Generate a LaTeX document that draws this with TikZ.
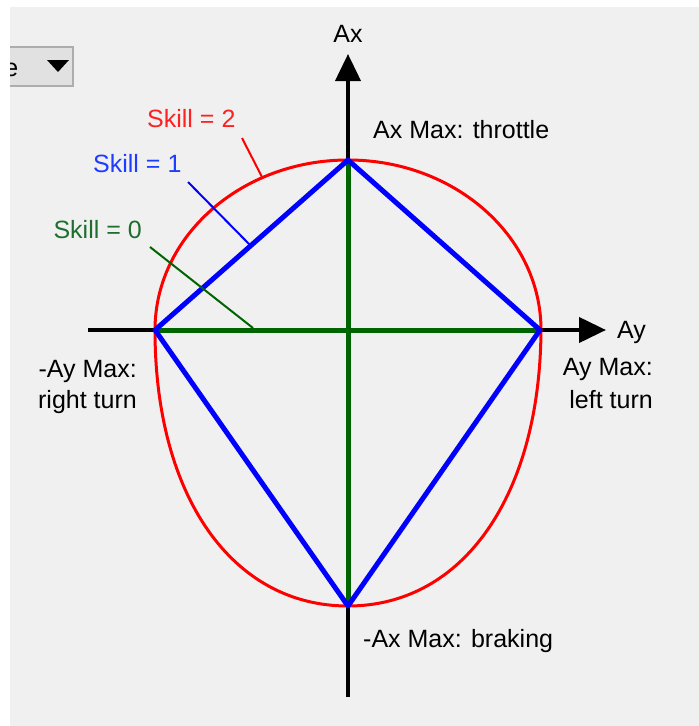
\documentclass[tikz,border=0pt]{standalone}
\usepackage{fontspec}
\setmainfont{Liberation Sans}
\usetikzlibrary{arrows.meta}
\definecolor{bgray}{HTML}{F0F0F0}
\definecolor{ddfill}{HTML}{E1E1E1}
\definecolor{ddborder}{HTML}{ADADAD}
\definecolor{sgreen}{HTML}{006400}
\definecolor{tgreen}{HTML}{1E6E2E}
\definecolor{tblue}{HTML}{1E3CFF}
\definecolor{tred}{HTML}{FF2020}
\tikzset{
  lbl/.style={inner sep=0pt, font=\fontsize{25}{30}\selectfont, text=black},
  axisline/.style={line width=4pt, -{Triangle[length=27pt,width=25pt]}},
  leader/.style={line width=2pt},
  skillshape/.style={line width=5pt, line join=round, line cap=round},
}
\begin{document}
\begin{tikzpicture}[x=1pt,y=-1pt]
\useasboundingbox (0,0) rectangle (699,726);
\fill[white] (0,0) rectangle (699,726);
\fill[bgray] (10,7) rectangle (699,726);
% dropdown fragment
\fill[ddfill] (10,47) rectangle (73,86);
\draw[ddborder, line width=1.5pt] (10,47) -- (73,47) -- (73,86) -- (10,86);
\begin{scope}
  \clip (10,48) rectangle (72,85);
  \node[lbl, anchor=base east] (ddtext) at (18.5,76) {e};
\end{scope}
\fill[black] (47,60) -- (69,60) -- (58,72) -- cycle;

% key points
\coordinate (O) at (348,330);
\coordinate (T) at (348,160);
\coordinate (B) at (348,606);
\coordinate (L) at (155,330);
\coordinate (R) at (540,330);
\coordinate (axbot) at (348,697);
\coordinate (axtop) at (348,54);
\coordinate (ayleft) at (88,330);
\coordinate (ayright) at (606,330);

% axes
\draw[axisline] (axbot) -- (axtop);
\draw[axisline] (ayleft) -- (ayright);

% skill = 2 (red egg)
\draw[red, line width=3pt] (L) arc[start angle=180, end angle=0, x radius=193pt, y radius=170pt]
  .. controls (540,496) and (463,606) .. (B)
  .. controls (232,606) and (155,496) .. (L);

% skill = 0 (green cross)
\draw[sgreen, line width=5pt] (T) -- (B);
\draw[sgreen, line width=5pt] (L) -- (R);

% skill = 1 (blue diamond)
\draw[blue, skillshape] (T) -- (R) -- (B) -- (L) -- cycle;

% labels
\node[lbl, anchor=base] (axlbl) at (348,42) {Ax};
\node[lbl, anchor=base west] (axmax) at (373,138) {Ax Max: throttle};
\node[lbl, anchor=base west] (aylbl) at (617,338) {Ay};
\node[lbl, anchor=base east] (aymax1) at (653,375) {Ay Max:};
\node[lbl, anchor=base east] (aymax2) at (653,408) {left turn};
\node[lbl, anchor=base east] (naymax1) at (137,377) {-Ay Max:};
\node[lbl, anchor=base east] (naymax2) at (137,408) {right turn};
\node[lbl, anchor=base west] (naxmax) at (363,647) {-Ax Max: braking};

\node[lbl, anchor=base west, text=tred] (s2) at (147,127) {Skill = 2};
\node[lbl, anchor=base west, text=tblue] (s1) at (93,172) {Skill = 1};
\node[lbl, anchor=base east, text=tgreen] (s0) at (142,238) {Skill = 0};

% leader lines
\coordinate (s2a) at (242,138);
\coordinate (s2b) at (262,177);
\coordinate (s1a) at (188,182);
\coordinate (s1b) at (251,246);
\coordinate (s0a) at (150,247);
\coordinate (s0b) at (253,328);
\draw[red, leader] (s2a) -- (s2b);
\draw[blue, leader] (s1a) -- (s1b);
\draw[sgreen, leader] (s0a) -- (s0b);
\end{tikzpicture}
\end{document}
